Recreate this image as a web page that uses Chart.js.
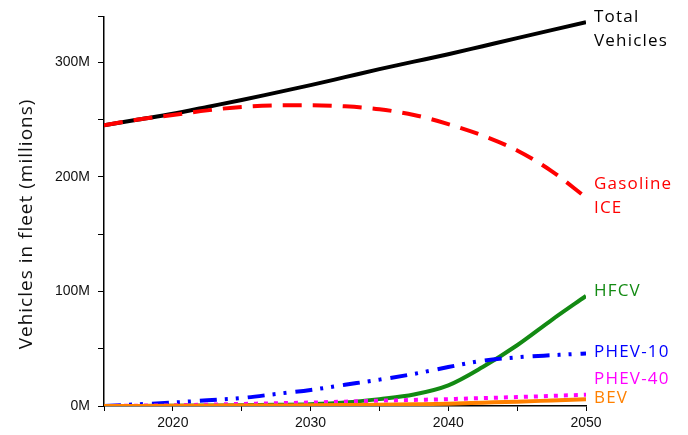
<!DOCTYPE html>
<html>
<head>
<meta charset="utf-8">
<script src="https://cdn.jsdelivr.net/npm/chart.js@4"></script>
<style>
  html, body { margin: 0; padding: 0; background: #fff; }
  #wrap { width: 688px; height: 435px; }
</style>
</head>
<body>
<div id="wrap"><canvas id="grafico" width="688" height="435"></canvas></div>
<script>
// --- dados (milhões de veículos), passos de 2,5 anos ---
const anos     = [2015, 2017.5, 2020, 2022.5, 2025, 2027.5, 2030, 2032.5, 2035, 2037.5, 2040, 2042.5, 2045, 2047.5, 2050];
const total    = [245, 250, 255, 261, 267, 273.5, 280, 287, 294, 300.5, 307, 314, 321, 328, 335];
const gasolina = [245, 250, 254, 258, 261, 262.3, 262.5, 261.5, 259, 254, 246, 236, 223, 205, 182];
const hfcv     = [0, 0, 0.2, 0.4, 0.6, 1, 1.5, 3, 6, 10, 18, 34, 53, 75, 96];
const phev10   = [0, 1.5, 3, 5, 7, 10.5, 14, 18.5, 23, 28, 34, 39.5, 42.5, 44.3, 45.8];
const phev40   = [0, 0.3, 0.6, 1.2, 1.8, 2.4, 3, 3.8, 4.6, 5.3, 6, 6.9, 7.8, 8.8, 9.8];
const bev      = [0, 0.1, 0.2, 0.3, 0.4, 0.5, 0.6, 0.8, 1.1, 1.5, 2, 2.9, 3.8, 4.8, 5.8];

const nomes  = [['Total', 'Vehicles'], ['Gasoline', 'ICE'], ['HFCV'], ['PHEV-10'], ['PHEV-40'], ['BEV']];
const cores  = ['#000000', '#ff0000', '#138a13', '#0000ff', '#ff00ff', '#ff8000'];
const rotuloEm = [329, 183, 100, 47, 23.5, 6.5];
const tituloY = 'Vehicles in fleet (millions)';

const pts = arr => anos.map((a, i) => ({ x: a, y: arr[i] }));

const rotulos = {
    id: 'rotulos',
    afterDraw(chart) {
        const ctx = chart.ctx;
        const y = chart.scales.y;
        const x0 = chart.chartArea.right + 8;
        ctx.save();
        ctx.font = '17px "Open Sans", "DejaVu Sans", sans-serif';
        ctx.textBaseline = 'middle';
        ctx.textAlign = 'left';
        ctx.letterSpacing = '1.2px';
        nomes.forEach((linhas, i) => {
            ctx.fillStyle = cores[i];
            const yc = y.getPixelForValue(rotuloEm[i]);
            const h = 24;
            linhas.forEach((t, j) => {
                const yy = yc + (j - (linhas.length - 1) / 2) * h;
                ctx.fillText(t, x0, yy);
            });
        });
        // título do eixo y
        ctx.fillStyle = '#111';
        ctx.font = '19px "Open Sans", "DejaVu Sans", sans-serif';
        ctx.letterSpacing = '1px';
        ctx.textAlign = 'center';
        ctx.translate(27, 224);
        ctx.rotate(-Math.PI / 2);
        ctx.fillText(tituloY, 0, 0);
        ctx.restore();
    }
};

const serie = (dados, cor, dash) => ({
    data: pts(dados),
    borderColor: cor,
    backgroundColor: cor,
    borderWidth: 4,
    borderDash: dash,
    borderCapStyle: 'butt',
    pointRadius: 0,
    cubicInterpolationMode: 'monotone',
    fill: false
});

new Chart(document.getElementById('grafico'), {
    type: 'line',
    data: {
        datasets: [
            serie(bev, cores[5], []),
            serie(phev40, cores[4], [4, 6]),
            serie(phev10, cores[3], [17, 8, 3, 8, 3, 9]),
            serie(hfcv, cores[2], []),
            serie(gasolina, cores[1], [19, 11]),
            serie(total, cores[0], [])
        ]
    },
    options: {
        responsive: false,
        animation: false,
        layout: { padding: { top: 15, right: 102, left: 0, bottom: 0 } },
        plugins: {
            legend: { display: false },
            tooltip: { enabled: false }
        },
        scales: {
            x: {
                type: 'linear',
                min: 2015,
                max: 2050,
                border: { color: '#000', width: 1.5 },
                grid: { drawOnChartArea: false, color: '#000', tickLength: 5 },
                ticks: {
                    stepSize: 5,
                    color: '#111',
                    font: { family: '"Liberation Sans", Arial, sans-serif', size: 14 },
                    padding: 4,
                    maxRotation: 0,
                    callback: v => v % 10 === 0 ? String(v) : ''
                },
                afterFit: s => { s.height = 29; }
            },
            y: {
                min: 0,
                max: 340,
                border: { color: '#000', width: 1.5 },
                grid: { drawOnChartArea: false, color: '#000', tickLength: 6 },
                ticks: {
                    stepSize: 50,
                    color: '#111',
                    font: { family: '"Liberation Sans", Arial, sans-serif', size: 14 },
                    padding: 8,
                    callback: v => v % 100 === 0 ? v + 'M' : ''
                },
                afterFit: s => { s.width = 104; }
            }
        }
    },
    plugins: [rotulos]
});
</script>
</body>
</html>
